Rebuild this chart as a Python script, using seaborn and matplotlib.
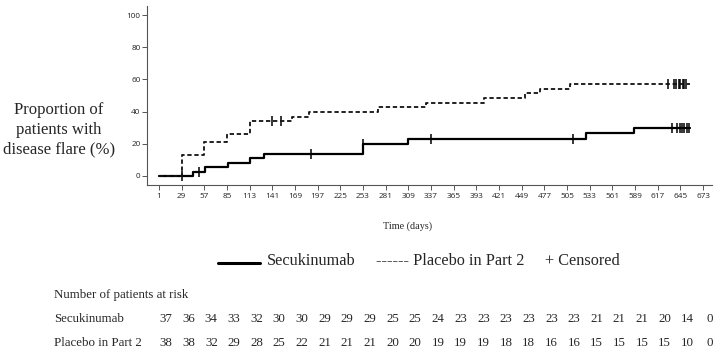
import numpy as np
import pandas as pd
import matplotlib.pyplot as plt
from matplotlib.lines import Line2D
from matplotlib import transforms
import seaborn as sns

# Kaplan-Meier style cumulative proportion (%) of patients with disease flare
sec_days = [1, 43, 58, 86, 113, 131, 253, 309, 528, 588, 657]
sec_pct = [0, 2.7, 5.4, 8.2, 11.1, 13.9, 19.9, 23.0, 26.5, 30.0, 30.0]
sec_censored = [29, 51, 189, 253, 337, 512, 635, 641, 645, 647, 650, 653, 655]

pla_days = [1, 30, 57, 85, 114, 165, 186, 271, 331, 403, 453, 472, 509, 657]
pla_pct = [0, 13.2, 20.9, 25.9, 34.2, 36.9, 39.8, 42.7, 45.5, 48.3, 51.4, 54.0, 57.0, 57.0]
pla_censored = [141, 152, 630, 637, 640, 643, 645, 648, 650, 652]

x_ticks = list(range(1, 674, 28))
y_ticks = [0, 20, 40, 60, 80, 100]

sec_at_risk = [37, 36, 34, 33, 32, 30, 30, 29, 29, 29, 25, 25, 24, 23, 23, 23, 23, 23, 23, 21, 21, 21, 20, 14, 0]
pla_at_risk = [38, 38, 32, 29, 28, 25, 22, 21, 21, 21, 20, 20, 19, 19, 19, 18, 18, 16, 16, 15, 15, 15, 15, 10, 0]

sns.set_style('ticks')
serif = ['Liberation Serif', 'DejaVu Serif']
sans = ['Open Sans', 'DejaVu Sans']


def step_value(days, pct, t):
    i = np.searchsorted(days, t, side='right') - 1
    return pct[i]


sec = pd.DataFrame({'day': sec_days, 'pct': sec_pct})
pla = pd.DataFrame({'day': pla_days, 'pct': pla_pct})
sec_c = pd.DataFrame({'day': sec_censored,
                      'pct': [step_value(sec_days, sec_pct, t) for t in sec_censored]})
pla_c = pd.DataFrame({'day': pla_censored,
                      'pct': [step_value(pla_days, pla_pct, t) for t in pla_censored]})

fig = plt.figure(figsize=(7.2, 3.53), dpi=100)
ax = fig.add_axes([147 / 720, 1 - 185 / 353, 565 / 720, 179 / 353])

sns.lineplot(data=sec, x='day', y='pct', drawstyle='steps-post', estimator=None,
             color='black', linewidth=1.6, ax=ax)
sns.lineplot(data=pla, x='day', y='pct', drawstyle='steps-post', estimator=None,
             color='#111111', linewidth=1.3, ax=ax)
ax.lines[-1].set_dashes((2.4, 1.5))
sns.scatterplot(data=sec_c, x='day', y='pct', marker='|', s=50, color='black',
                linewidth=1.1, ax=ax)
sns.scatterplot(data=pla_c, x='day', y='pct', marker='|', s=50, color='black',
                linewidth=1.1, ax=ax)

ax.set_xlim(-13.8, 684)
ax.set_ylim(-5.6, 105.6)
ax.set_xticks(x_ticks)
ax.set_yticks(y_ticks)
ax.set_xlabel('')
ax.set_ylabel('')
sns.despine(ax=ax)
for s in ['left', 'bottom']:
    ax.spines[s].set_color('#555555')
    ax.spines[s].set_linewidth(0.8)
ax.tick_params(axis='both', direction='out', length=3.5, width=0.7, color='#555555',
               labelsize=5.9, labelcolor='#222222')
ax.tick_params(axis='x', pad=2.5)
ax.tick_params(axis='y', pad=1.2)
for lab in ax.get_xticklabels() + ax.get_yticklabels():
    lab.set_family(sans)

fig.text(59 / 720, 1 - 130 / 353, 'Proportion of\npatients with\ndisease flare (%)',
         ha='center', va='center', fontsize=12, family=serif, linespacing=1.3)
fig.text(408 / 720, 1 - 226 / 353, 'Time (days)', ha='center', va='center',
         fontsize=7.3, family=serif)

# legend row
fig.add_artist(Line2D([218 / 720, 260 / 720], [1 - 263 / 353, 1 - 263 / 353],
                      color='black', linewidth=2.2, transform=fig.transFigure))
fig.text(267 / 720, 1 - 261 / 353, 'Secukinumab', ha='left', va='center',
         fontsize=11.7, family=serif)
fig.text(376 / 720, 1 - 261 / 353, '------ Placebo in Part 2', ha='left', va='center',
         fontsize=11.7, family=serif)
fig.text(545 / 720, 1 - 261 / 353, '+ Censored', ha='left', va='center',
         fontsize=11.7, family=serif)

# number at risk table
fig.text(54 / 720, 1 - 295 / 353, 'Number of patients at risk', ha='left', va='center',
         fontsize=9.3, family=serif)
rows = [('Secukinumab', sec_at_risk, 318.5), ('Placebo in Part 2', pla_at_risk, 342.5)]
trans = transforms.blended_transform_factory(ax.transData, fig.transFigure)
trans = transforms.offset_copy(trans, fig=fig, x=5, units='points')
for name, counts, ypix in rows:
    fig.text(54 / 720, 1 - ypix / 353, name, ha='left', va='center',
             fontsize=9.3, family=serif)
    for day, n in zip(x_ticks, counts):
        ax.text(day, 1 - ypix / 353, str(n), ha='center', va='center',
                fontsize=9.3, family=serif, transform=trans, clip_on=False)

fig.savefig('out.png', dpi=100)
